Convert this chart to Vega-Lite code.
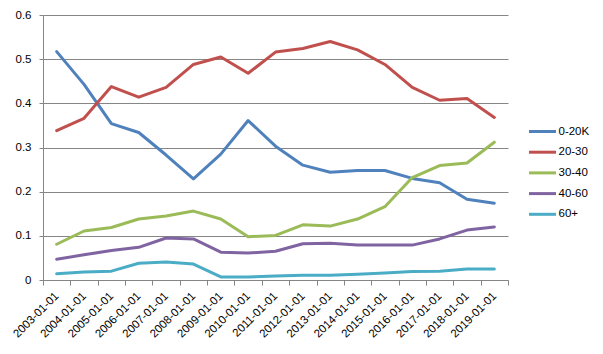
{
  "$schema": "https://vega.github.io/schema/vega-lite/v6.json",
  "autosize": "none",
  "width": 465,
  "height": 265,
  "padding": {"left": 43, "top": 15, "right": 95, "bottom": 74},
  "background": "white",
  "config": {
    "view": {"stroke": null},
    "font": "Liberation Sans",
    "axis": {"labelFont": "Liberation Sans", "labelFontSize": 11.5, "labelColor": "#000000", "domainColor": "#868686", "tickColor": "#868686", "gridColor": "#868686", "gridWidth": 1, "domainWidth": 1, "tickWidth": 1}
  },
  "data": {
    "values": [
      {"date": "2003-01-01", "group": "0-20K", "value": 0.517},
      {"date": "2004-01-01", "group": "0-20K", "value": 0.443},
      {"date": "2005-01-01", "group": "0-20K", "value": 0.354},
      {"date": "2006-01-01", "group": "0-20K", "value": 0.334},
      {"date": "2007-01-01", "group": "0-20K", "value": 0.283},
      {"date": "2008-01-01", "group": "0-20K", "value": 0.229},
      {"date": "2009-01-01", "group": "0-20K", "value": 0.285},
      {"date": "2010-01-01", "group": "0-20K", "value": 0.361},
      {"date": "2011-01-01", "group": "0-20K", "value": 0.303},
      {"date": "2012-01-01", "group": "0-20K", "value": 0.260},
      {"date": "2013-01-01", "group": "0-20K", "value": 0.244},
      {"date": "2014-01-01", "group": "0-20K", "value": 0.248},
      {"date": "2015-01-01", "group": "0-20K", "value": 0.248},
      {"date": "2016-01-01", "group": "0-20K", "value": 0.230},
      {"date": "2017-01-01", "group": "0-20K", "value": 0.220},
      {"date": "2018-01-01", "group": "0-20K", "value": 0.183},
      {"date": "2019-01-01", "group": "0-20K", "value": 0.174},
      {"date": "2003-01-01", "group": "20-30", "value": 0.338},
      {"date": "2004-01-01", "group": "20-30", "value": 0.366},
      {"date": "2005-01-01", "group": "20-30", "value": 0.438},
      {"date": "2006-01-01", "group": "20-30", "value": 0.414},
      {"date": "2007-01-01", "group": "20-30", "value": 0.436},
      {"date": "2008-01-01", "group": "20-30", "value": 0.488},
      {"date": "2009-01-01", "group": "20-30", "value": 0.505},
      {"date": "2010-01-01", "group": "20-30", "value": 0.468},
      {"date": "2011-01-01", "group": "20-30", "value": 0.516},
      {"date": "2012-01-01", "group": "20-30", "value": 0.524},
      {"date": "2013-01-01", "group": "20-30", "value": 0.540},
      {"date": "2014-01-01", "group": "20-30", "value": 0.521},
      {"date": "2015-01-01", "group": "20-30", "value": 0.488},
      {"date": "2016-01-01", "group": "20-30", "value": 0.436},
      {"date": "2017-01-01", "group": "20-30", "value": 0.407},
      {"date": "2018-01-01", "group": "20-30", "value": 0.411},
      {"date": "2019-01-01", "group": "20-30", "value": 0.368},
      {"date": "2003-01-01", "group": "30-40", "value": 0.081},
      {"date": "2004-01-01", "group": "30-40", "value": 0.111},
      {"date": "2005-01-01", "group": "30-40", "value": 0.119},
      {"date": "2006-01-01", "group": "30-40", "value": 0.138},
      {"date": "2007-01-01", "group": "30-40", "value": 0.145},
      {"date": "2008-01-01", "group": "30-40", "value": 0.156},
      {"date": "2009-01-01", "group": "30-40", "value": 0.138},
      {"date": "2010-01-01", "group": "30-40", "value": 0.098},
      {"date": "2011-01-01", "group": "30-40", "value": 0.101},
      {"date": "2012-01-01", "group": "30-40", "value": 0.125},
      {"date": "2013-01-01", "group": "30-40", "value": 0.122},
      {"date": "2014-01-01", "group": "30-40", "value": 0.138},
      {"date": "2015-01-01", "group": "30-40", "value": 0.166},
      {"date": "2016-01-01", "group": "30-40", "value": 0.232},
      {"date": "2017-01-01", "group": "30-40", "value": 0.259},
      {"date": "2018-01-01", "group": "30-40", "value": 0.265},
      {"date": "2019-01-01", "group": "30-40", "value": 0.312},
      {"date": "2003-01-01", "group": "40-60", "value": 0.047},
      {"date": "2004-01-01", "group": "40-60", "value": 0.057},
      {"date": "2005-01-01", "group": "40-60", "value": 0.067},
      {"date": "2006-01-01", "group": "40-60", "value": 0.074},
      {"date": "2007-01-01", "group": "40-60", "value": 0.095},
      {"date": "2008-01-01", "group": "40-60", "value": 0.093},
      {"date": "2009-01-01", "group": "40-60", "value": 0.063},
      {"date": "2010-01-01", "group": "40-60", "value": 0.061},
      {"date": "2011-01-01", "group": "40-60", "value": 0.065},
      {"date": "2012-01-01", "group": "40-60", "value": 0.082},
      {"date": "2013-01-01", "group": "40-60", "value": 0.083},
      {"date": "2014-01-01", "group": "40-60", "value": 0.079},
      {"date": "2015-01-01", "group": "40-60", "value": 0.079},
      {"date": "2016-01-01", "group": "40-60", "value": 0.079},
      {"date": "2017-01-01", "group": "40-60", "value": 0.093},
      {"date": "2018-01-01", "group": "40-60", "value": 0.113},
      {"date": "2019-01-01", "group": "40-60", "value": 0.120},
      {"date": "2003-01-01", "group": "60+", "value": 0.014},
      {"date": "2004-01-01", "group": "60+", "value": 0.018},
      {"date": "2005-01-01", "group": "60+", "value": 0.020},
      {"date": "2006-01-01", "group": "60+", "value": 0.038},
      {"date": "2007-01-01", "group": "60+", "value": 0.041},
      {"date": "2008-01-01", "group": "60+", "value": 0.036},
      {"date": "2009-01-01", "group": "60+", "value": 0.007},
      {"date": "2010-01-01", "group": "60+", "value": 0.007},
      {"date": "2011-01-01", "group": "60+", "value": 0.009},
      {"date": "2012-01-01", "group": "60+", "value": 0.011},
      {"date": "2013-01-01", "group": "60+", "value": 0.011},
      {"date": "2014-01-01", "group": "60+", "value": 0.013},
      {"date": "2015-01-01", "group": "60+", "value": 0.016},
      {"date": "2016-01-01", "group": "60+", "value": 0.019},
      {"date": "2017-01-01", "group": "60+", "value": 0.020},
      {"date": "2018-01-01", "group": "60+", "value": 0.025},
      {"date": "2019-01-01", "group": "60+", "value": 0.025}
    ]
  },
  "mark": {"type": "line", "strokeWidth": 3, "strokeJoin": "round", "strokeCap": "round"},
  "encoding": {
    "x": {
      "field": "date",
      "type": "ordinal",
      "title": null,
      "scale": {"type": "band", "paddingInner": 0, "paddingOuter": 0},
      "axis": {"tickBand": "extent", "grid": false, "ticks": true, "tickSize": 5, "labelAngle": -45, "labelAlign": "right", "labelBaseline": "middle", "labelPadding": 9, "labelDx": 2}
    },
    "y": {
      "field": "value",
      "type": "quantitative",
      "title": null,
      "scale": {"domain": [0, 0.6], "nice": false},
      "axis": {"values": [0, 0.1, 0.2, 0.3, 0.4, 0.5, 0.6], "format": ".1~f", "tickSize": 4, "labelPadding": 8, "grid": true}
    },
    "color": {
      "field": "group",
      "type": "nominal",
      "scale": {"domain": ["0-20K", "20-30", "30-40", "40-60", "60+"], "range": ["#4F81BD", "#C0504D", "#9BBB59", "#8064A2", "#4BACC6"]},
      "legend": {
        "title": null,
        "orient": "none",
        "legendX": 487,
        "legendY": 104,
        "padding": 0,
        "symbolType": "M-1.23,0H1.23",
        "symbolSize": 484,
        "symbolStrokeWidth": 3,
        "rowPadding": 1.7,
        "labelOffset": 3.5,
        "labelFont": "Liberation Sans",
        "labelFontSize": 11.5,
        "labelColor": "#000000"
      }
    }
  }
}
